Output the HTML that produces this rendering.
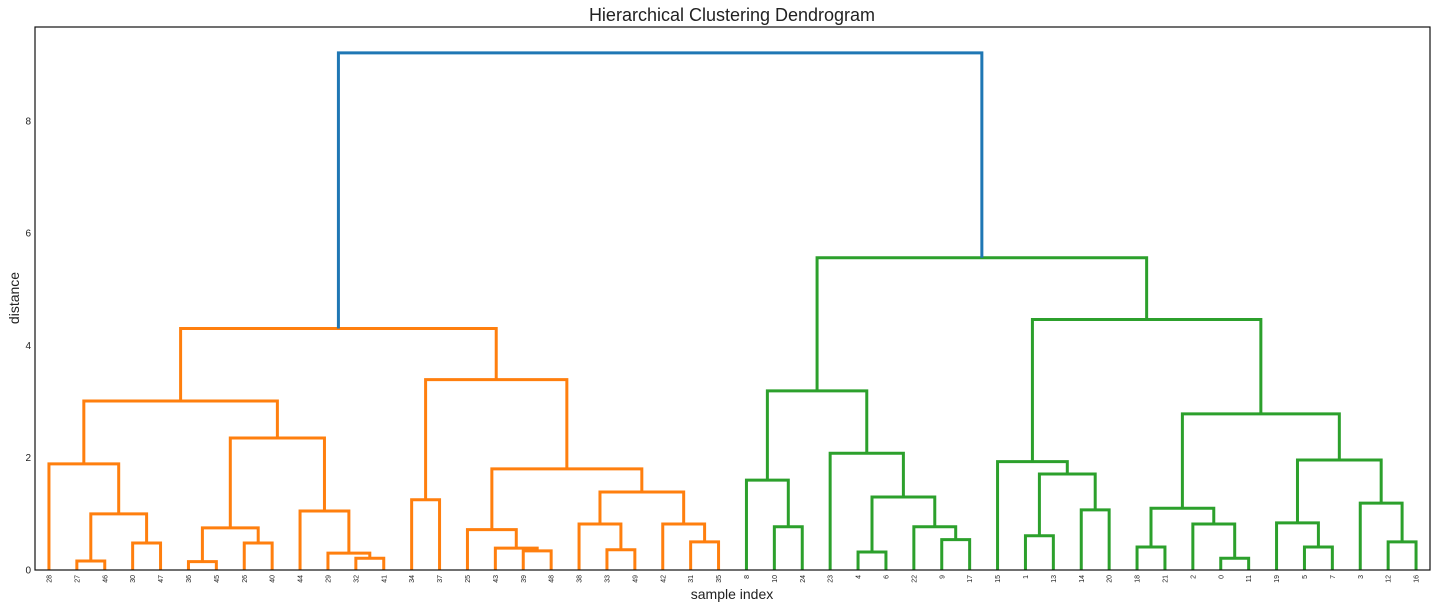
<!DOCTYPE html>
<html><head><meta charset="utf-8"><style>
body{margin:0;background:#fff;}
svg text{font-family:"Liberation Sans",sans-serif;}
</style></head><body>
<svg id="chart" width="1436" height="608" xmlns="http://www.w3.org/2000/svg">
<text x="732" y="21" font-size="18" text-anchor="middle" fill="#222">Hierarchical Clustering Dendrogram</text>
<text x="732" y="599" font-size="14" text-anchor="middle" fill="#222">sample index</text>
<text x="19" y="298" font-size="14" text-anchor="middle" fill="#222" transform="rotate(-90 19 298)">distance</text>
<g id="links"></g>
<g id="yticks"></g>
<g id="xticks"></g>
<rect x="35" y="27" width="1395" height="543" fill="none" stroke="#111" stroke-width="1.2"/>
</svg>
<script>
const leafLabels = [28,27,46,30,47,36,45,26,40,44,29,32,41,34,37,25,43,39,48,38,33,49,42,31,35,
  8,10,24,23,4,6,22,9,17,15,1,13,14,20,18,21,2,0,11,19,5,7,3,12,16];
const leftTree = [4.3,
  [3.01,
    [1.89, 0, [1.0, [0.16,1,2], [0.48,3,4]]],
    [2.35, [0.75,[0.15,5,6],[0.48,7,8]], [1.05, 9, [0.30, 10, [0.21,11,12]]]]],
  [3.39,
    [1.25,13,14],
    [1.8, [0.72, 15, [0.39, 16, [0.34,17,18]]],
          [1.39, [0.82, 19, [0.36,20,21]], [0.82, 22, [0.5,23,24]]]]]];
const rightTree = [5.56,
  [3.19,
    [1.6, 25, [0.77,26,27]],
    [2.08, 28, [1.3, [0.32,29,30], [0.77, 31, [0.54,32,33]]]]],
  [4.46,
    [1.93, 34, [1.71, [0.61,35,36], [1.07,37,38]]],
    [2.78,
      [1.1, [0.41,39,40], [0.82, 41, [0.21,42,43]]],
      [1.96, [0.84, 44, [0.41,45,46]], [1.19, 47, [0.5,48,49]]]]]];
const rootHeight = 9.21;
const yTicks = [0,2,4,6,8];

const X0=35, X1=1430, Y0=570, Y1=27, YMAX=9.67;
const xs = p => X0 + (10*p+5)*(X1-X0)/500;
const ys = v => Y0 - v*(Y0-Y1)/YMAX;
const NS="http://www.w3.org/2000/svg";
const links=document.getElementById('links');
function drawLink(xl,hl,xr,hr,h,color){
  const p=document.createElementNS(NS,'path');
  p.setAttribute('d',`M${xl},${ys(hl)}V${ys(h)}H${xr}V${ys(hr)}`);
  p.setAttribute('fill','none');p.setAttribute('stroke',color);p.setAttribute('stroke-width','3');
  
  
  links.appendChild(p);
}
function walk(n,color){
  if(typeof n==='number') return [xs(n),0];
  const [h,l,r]=n;
  const a=walk(l,color), b=walk(r,color);
  drawLink(a[0],a[1],b[0],b[1],h,color);
  return [(a[0]+b[0])/2,h];
}
const L=walk(leftTree,'#ff7f0e'), R=walk(rightTree,'#2ca02c');
drawLink(L[0],L[1],R[0],R[1],rootHeight,'#1f77b4');

const yt=document.getElementById('yticks');
yTicks.forEach(v=>{
  const t=document.createElementNS(NS,'text');
  t.setAttribute('x',31);t.setAttribute('y',ys(v)+3.5);
  t.setAttribute('font-size','10');t.setAttribute('text-anchor','end');t.setAttribute('fill','#222');
  t.textContent=v;
  
  
  yt.appendChild(t);
});
const xt=document.getElementById('xticks');
leafLabels.forEach((lab,i)=>{
  const x=xs(i), y=575;
  const t=document.createElementNS(NS,'text');
  t.setAttribute('x',x);t.setAttribute('y',y);
  t.setAttribute('font-size','7');t.setAttribute('text-anchor','end');t.setAttribute('fill','#222');
  t.setAttribute('transform',`rotate(-90 ${x} ${y}) translate(0 2.5)`);
  t.textContent=lab;
  
  
  xt.appendChild(t);
});
</script>
</body></html>
